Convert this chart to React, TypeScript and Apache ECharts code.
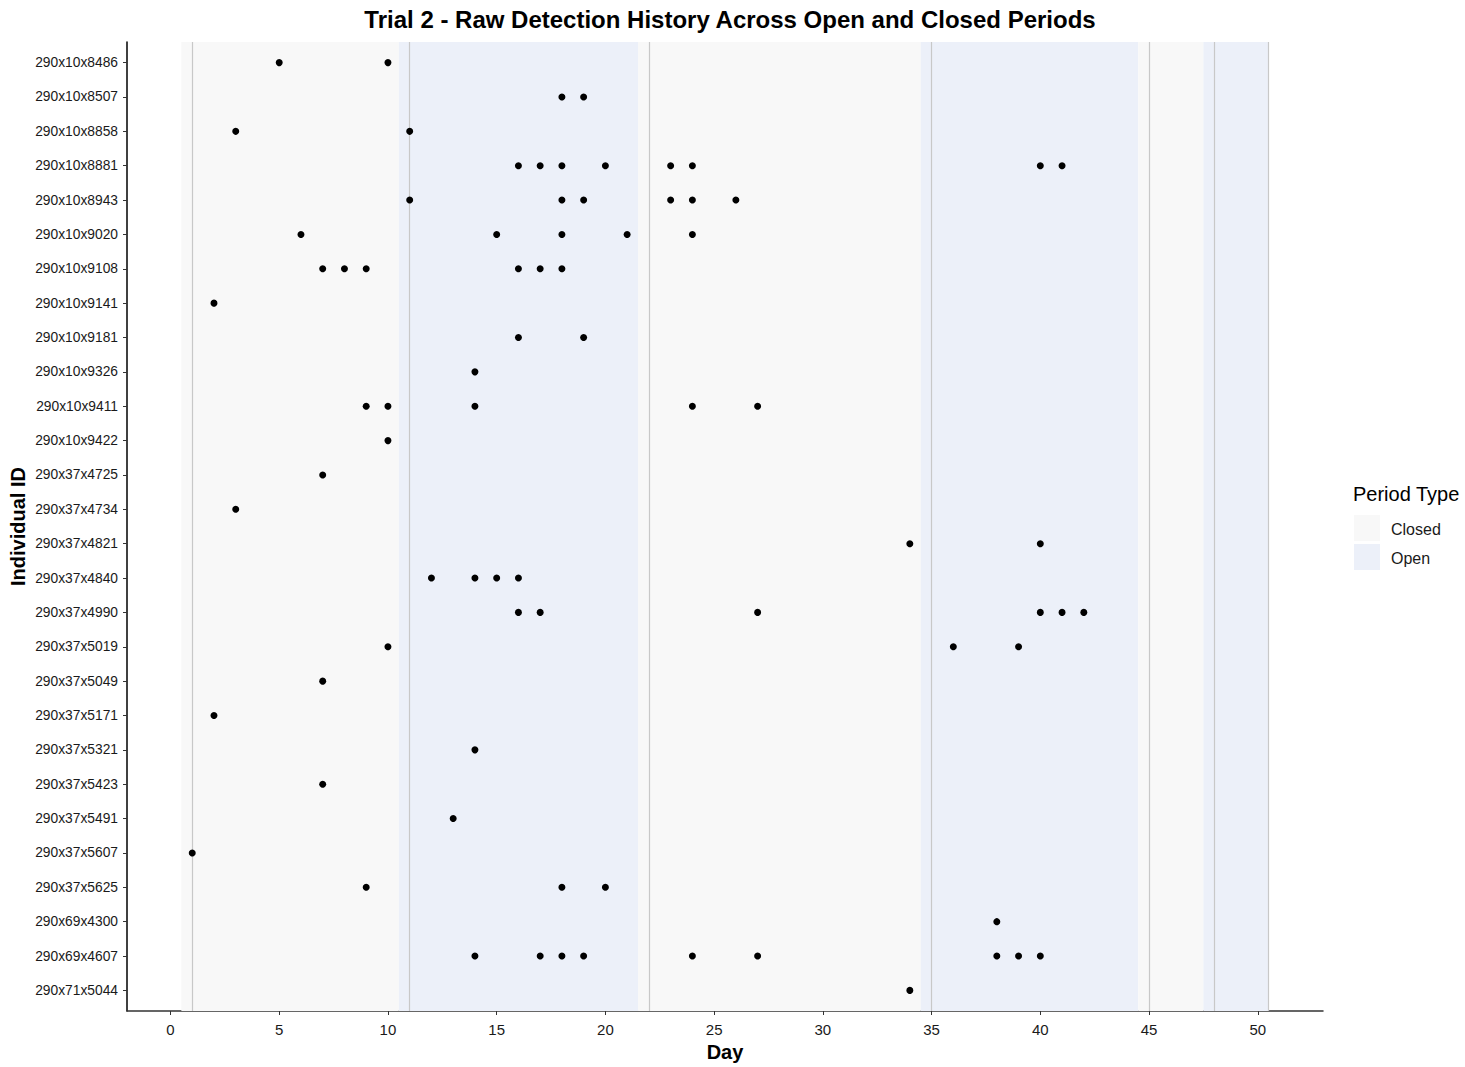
import React, { useEffect, useRef } from "react";
import * as echarts from "echarts";

const ids: string[] = [
  "290x10x8486", "290x10x8507", "290x10x8858", "290x10x8881", "290x10x8943",
  "290x10x9020", "290x10x9108", "290x10x9141", "290x10x9181", "290x10x9326",
  "290x10x9411", "290x10x9422", "290x37x4725", "290x37x4734", "290x37x4821",
  "290x37x4840", "290x37x4990", "290x37x5019", "290x37x5049", "290x37x5171",
  "290x37x5321", "290x37x5423", "290x37x5491", "290x37x5607", "290x37x5625",
  "290x69x4300", "290x69x4607", "290x71x5044",
];

const detectionDays: number[][] = [
  [5, 10],
  [18, 19],
  [3, 11],
  [16, 17, 18, 20, 23, 24, 40, 41],
  [11, 18, 19, 23, 24, 26],
  [6, 15, 18, 21, 24],
  [7, 8, 9, 16, 17, 18],
  [2],
  [16, 19],
  [14],
  [9, 10, 14, 24, 27],
  [10],
  [7],
  [3],
  [34, 40],
  [12, 14, 15, 16],
  [16, 17, 27, 40, 41, 42],
  [10, 36, 39],
  [7],
  [2],
  [14],
  [7],
  [13],
  [1],
  [9, 18, 20],
  [38],
  [14, 17, 18, 19, 24, 27, 38, 39, 40],
  [34],
];

const periodStart: number[] = [0.5, 10.5, 21.5, 34.5, 44.5, 47.5];
const periodEnd: number[] = [10.5, 21.5, 34.5, 44.5, 47.5, 50.5];
const periodType: string[] = ["Closed", "Open", "Closed", "Open", "Closed", "Open"];
const boundaryLines: number[] = [1, 11, 22, 35, 45, 48, 50.5];
const xTicks: number[] = [0, 5, 10, 15, 20, 25, 30, 35, 40, 45, 50];

const FONT = "Liberation Sans, Arial, sans-serif";
const COLORS: Record<string, string> = { Closed: "#F8F8F8", Open: "#ECF0F9" };

export default function App() {
  const ref = useRef<HTMLDivElement>(null);
  useEffect(() => {
    if (!ref.current) return;
    const chart = echarts.init(ref.current, undefined, { renderer: "svg" });
    const points: number[][] = [];
    detectionDays.forEach((days, i) => days.forEach((d) => points.push([d, i])));
    const yIdx = ids.map((_, i) => i);

    chart.setOption({
      animation: false,
      backgroundColor: "#ffffff",
      textStyle: { fontFamily: FONT },
      title: {
        text: "Trial 2 - Raw Detection History Across Open and Closed Periods",
        left: 725,
        top: 2,
        textAlign: "center",
        textStyle: { fontFamily: FONT, fontSize: 24, fontWeight: "bold", color: "#000" },
      },
      grid: {
        left: 127,
        right: 142,
        top: 42,
        bottom: 56,
        containLabel: false,
        outerBoundsMode: "none",
      },
      xAxis: {
        type: "value",
        min: -2,
        max: 53,
        name: "Day",
        nameLocation: "middle",
        nameGap: 31,
        nameMoveOverlap: false,
        nameTextStyle: { fontFamily: FONT, fontSize: 20, fontWeight: "bold", color: "#000", lineHeight: 20 },
        axisLine: { show: true, onZero: false, lineStyle: { color: "#333", width: 1.5 } },
        axisTick: { show: true, customValues: xTicks, length: 4, lineStyle: { color: "#333" } },
        axisLabel: { customValues: xTicks, fontSize: 15, color: "#1a1a1a", margin: 11, fontFamily: FONT },
        splitLine: { show: false },
      },
      yAxis: {
        type: "value",
        inverse: true,
        min: -0.6,
        max: 27.6,
        name: "Individual ID",
        nameLocation: "middle",
        nameGap: 99,
        nameMoveOverlap: false,
        nameTextStyle: { fontFamily: FONT, fontSize: 20, fontWeight: "bold", color: "#000", lineHeight: 20 },
        axisLine: { show: true, onZero: false, lineStyle: { color: "#000", width: 1.5 } },
        axisTick: { show: true, customValues: yIdx, length: 4, lineStyle: { color: "#333" } },
        axisLabel: {
          customValues: yIdx,
          formatter: (v: number) => ids[Math.round(v)] ?? "",
          fontSize: 13.8,
          color: "#1a1a1a",
          margin: 9,
          fontFamily: FONT,
        },
        splitLine: { show: false },
      },
      series: [
        {
          type: "scatter",
          silent: true,
          data: [],
          markArea: {
            silent: true,
            label: { show: false },
            data: periodStart.map((s, i) => [
              { xAxis: s, itemStyle: { color: COLORS[periodType[i]] } },
              { xAxis: periodEnd[i] },
            ]),
          },
          markLine: {
            silent: true,
            symbol: ["none", "none"],
            label: { show: false },
            lineStyle: { color: "#C8C8C8", width: 1.2, type: "solid" },
            data: boundaryLines.map((x) => ({ xAxis: x })),
          },
        },
        {
          type: "scatter",
          data: points,
          symbolSize: 7,
          itemStyle: { color: "#000", opacity: 1 },
          z: 5,
        },
      ],
      graphic: [
        {
          type: "text",
          x: 1353,
          y: 484,
          style: { text: "Period Type", fontFamily: FONT, fontSize: 20, fill: "#000" },
        },
        { type: "rect", shape: { x: 1354, y: 515, width: 26, height: 26 }, style: { fill: COLORS.Closed } },
        { type: "rect", shape: { x: 1354, y: 544, width: 26, height: 26 }, style: { fill: COLORS.Open } },
        {
          type: "text",
          x: 1391,
          y: 521,
          style: { text: "Closed", fontFamily: FONT, fontSize: 16, fill: "#1a1a1a" },
        },
        {
          type: "text",
          x: 1391,
          y: 550,
          style: { text: "Open", fontFamily: FONT, fontSize: 16, fill: "#1a1a1a" },
        },
      ],
    });
    return () => chart.dispose();
  }, []);
  return (
    <div
      ref={ref}
      style={{ position: "fixed", left: 0, top: 0, width: 1465, height: 1067 }}
    />
  );
}
